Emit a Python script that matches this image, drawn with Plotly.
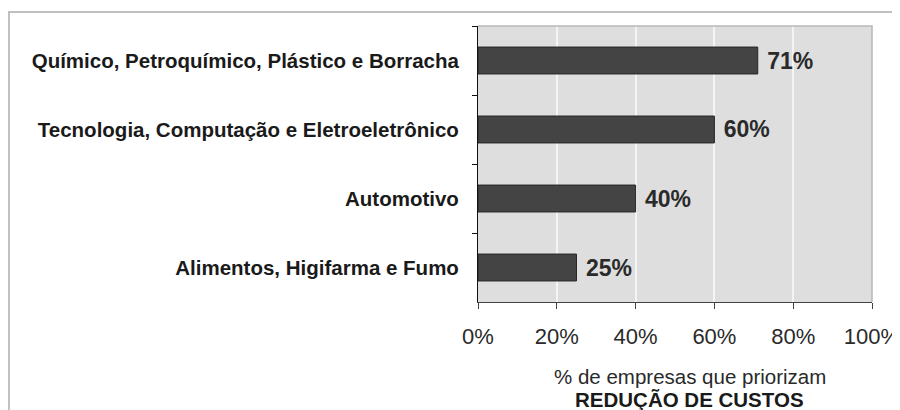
import plotly.graph_objects as go

categories = [
    "Químico, Petroquímico, Plástico e Borracha",
    "Tecnologia, Computação e Eletroeletrônico",
    "Automotivo",
    "Alimentos, Higifarma e Fumo",
]
values = [71, 60, 40, 25]
x_ticks = [0, 20, 40, 60, 80, 100]
x_tick_labels = ["0%", "20%", "40%", "60%", "80%", "100%"]
title_line1 = "% de empresas que priorizam"
title_line2 = "REDUÇÃO DE CUSTOS"

FONT = "Liberation Sans, Arial, sans-serif"
labels = [f"<b>{c}</b>" for c in categories]

fig = go.Figure(
    go.Bar(
        x=values,
        y=labels,
        orientation="h",
        marker=dict(color="#444444", line=dict(color="#262626", width=1)),
        text=[f"<b> {v}%</b>" for v in values],
        textposition="outside",
        textfont=dict(family=FONT, size=23, color="#2a2a2a"),
        constraintext="none",
        cliponaxis=False,
        width=0.39,
    )
)

# page body has an 8px margin, so the figure is 8px smaller and margins shifted
fig.update_layout(
    width=892,
    height=402,
    margin=dict(l=470, r=28, t=18, b=108, autoexpand=False),
    paper_bgcolor="white",
    plot_bgcolor="#dedede",
    showlegend=False,
    font=dict(family=FONT, color="#222222"),
    xaxis=dict(
        range=[0, 100],
        tickvals=x_ticks,
        ticktext=x_tick_labels,
        showgrid=True,
        gridcolor="#f4f4f4",
        gridwidth=1.5,
        zeroline=False,
        showline=True,
        linecolor="#444444",
        linewidth=1,
        ticks="outside",
        ticklen=6,
        tickcolor="#444444",
        tickfont=dict(family=FONT, size=22, color="#2a2a2a"),
        ticklabelstandoff=9,
        ticklabeloverflow="allow",
        automargin=False,
        fixedrange=True,
    ),
    yaxis=dict(
        categoryorder="array",
        categoryarray=labels,
        autorange="reversed",
        showline=True,
        linecolor="#111111",
        linewidth=1,
        ticks="outside",
        tickson="boundaries",
        ticklen=5,
        tickcolor="#111111",
        tickfont=dict(family=FONT, size=20.5, color="#1a1a1a"),
        ticklabelstandoff=14,
        showgrid=False,
        zeroline=False,
        automargin=False,
        fixedrange=True,
    ),
    annotations=[
        dict(
            text=title_line1, xref="paper", yref="paper",
            x=0.538, y=-0.2717, xanchor="center", yanchor="middle",
            showarrow=False, font=dict(family=FONT, size=20.5, color="#2a2a2a"),
        ),
        dict(
            text=f"<b>{title_line2}</b>", xref="paper", yref="paper",
            x=0.538, y=-0.352, xanchor="center", yanchor="middle",
            showarrow=False, font=dict(family=FONT, size=20.5, color="#1a1a1a"),
        ),
    ],
    shapes=[
        dict(
            type="rect", xref="paper", yref="paper",
            x0=-1.1905, x1=1.0685, y0=-0.45, y1=1.0507,
            line=dict(color="#c0c0c0", width=2), fillcolor="rgba(0,0,0,0)",
            layer="below",
        ),
        dict(
            type="path", xref="paper", yref="paper",
            path="M 0,1 L 1,1 L 1,0",
            line=dict(color="#b8b8b8", width=1.5),
            layer="above",
        ),
    ],
)

fig.write_html("out.html")
